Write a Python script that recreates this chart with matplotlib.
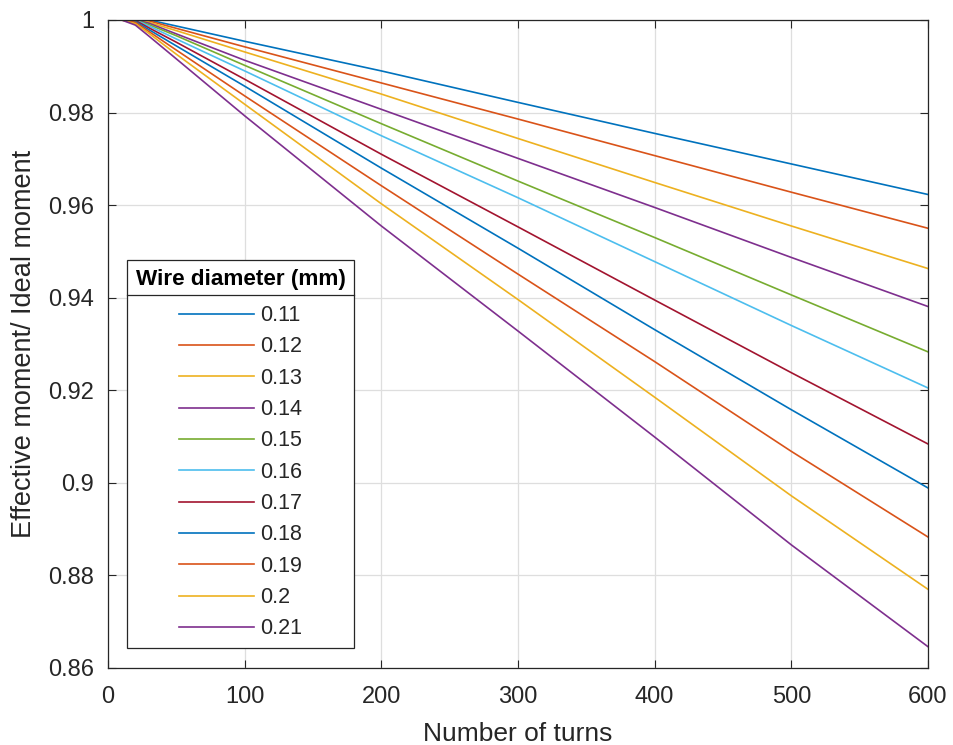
import matplotlib
matplotlib.use("Agg")
import matplotlib.pyplot as plt
from matplotlib.lines import Line2D

turns = [10, 20, 30, 50, 100, 200, 300, 400, 500, 600]
diameters = ["0.11", "0.12", "0.13", "0.14", "0.15", "0.16", "0.17", "0.18", "0.19", "0.2", "0.21"]

d011 = [1.0, 1.0, 1.0, 0.9987, 0.9954, 0.9890, 0.9822, 0.9755, 0.9689, 0.9623]
d012 = [1.0, 1.0, 0.9998, 0.9982, 0.9942, 0.9864, 0.9786, 0.9707, 0.9628, 0.9550]
d013 = [1.0, 1.0, 0.9995, 0.9977, 0.9931, 0.9840, 0.9744, 0.9649, 0.9555, 0.9463]
d014 = [1.0, 1.0, 0.9993, 0.9970, 0.9913, 0.9807, 0.9701, 0.9595, 0.9487, 0.9381]
d015 = [1.0, 1.0, 0.9990, 0.9966, 0.9902, 0.9776, 0.9652, 0.9530, 0.9406, 0.9283]
d016 = [1.0, 1.0, 0.9987, 0.9959, 0.9890, 0.9750, 0.9616, 0.9478, 0.9340, 0.9205]
d017 = [1.0, 0.9999, 0.9983, 0.9952, 0.9872, 0.9710, 0.9553, 0.9395, 0.9238, 0.9084]
d018 = [1.0, 0.9997, 0.9979, 0.9944, 0.9857, 0.9680, 0.9507, 0.9331, 0.9158, 0.8989]
d019 = [1.0, 0.9995, 0.9975, 0.9935, 0.9836, 0.9642, 0.9451, 0.9262, 0.9068, 0.8883]
d020 = [1.0, 0.9992, 0.9971, 0.9926, 0.9818, 0.9603, 0.9396, 0.9185, 0.8972, 0.8770]
d021 = [1.0, 0.9989, 0.9965, 0.9916, 0.9793, 0.9555, 0.9328, 0.9099, 0.8866, 0.8646]

series = [d011, d012, d013, d014, d015, d016, d017, d018, d019, d020, d021]

x_ticks = [0, 100, 200, 300, 400, 500, 600]
y_ticks = [0.86, 0.88, 0.9, 0.92, 0.94, 0.96, 0.98, 1.0]
y_ticklabels = ["0.86", "0.88", "0.9", "0.92", "0.94", "0.96", "0.98", "1"]

colors = ["#0072BD", "#D95319", "#EDB120", "#7E2F8E", "#77AC30", "#4DBEEE", "#A2142F"]

plt.rcParams['font.family'] = ['Liberation Sans', 'DejaVu Sans']
txt = "#262626"

fig = plt.figure(figsize=(9.54, 7.45), dpi=100)
ax = fig.add_axes([108/954, 1 - 668/745, (928-108)/954, (668-20)/745])

for i, (lab, vals) in enumerate(zip(diameters, series)):
    ax.plot(turns, vals, color=colors[i % len(colors)], lw=1.2, label=lab)

ax.set_xlim(0, 600)
ax.set_ylim(0.86, 1.0)
ax.set_xticks(x_ticks)
ax.set_yticks(y_ticks)
ax.set_yticklabels(y_ticklabels)
ax.grid(True, color="#dedede", lw=0.9)
ax.set_axisbelow(True)
ax.tick_params(direction="in", length=6, width=0.8, top=True, right=True,
               labelsize=17, colors=txt)
ax.tick_params(axis="x", pad=13)
ax.tick_params(axis="y", pad=10)
for s in ax.spines.values():
    s.set_color(txt)
    s.set_linewidth(0.9)
ax.set_xlabel("Number of turns", fontsize=19, color=txt, labelpad=10)
ax.set_ylabel("Effective moment/ Ideal moment", fontsize=19.5, color=txt, labelpad=8)

leg = ax.legend(loc="lower left", bbox_to_anchor=(19/820, 20/648), fontsize=15.5,
                title="Wire diameter (mm)",
                title_fontproperties={"weight": "bold", "size": 16.2},
                handlelength=3.5, handletextpad=0.28, labelspacing=0.48,
                borderpad=0.4, borderaxespad=0, fancybox=False, framealpha=1,
                edgecolor=txt)
leg._legend_box.sep = 11
leg.get_frame().set_linewidth(0.9)
for t in leg.get_texts():
    t.set_color(txt)
leg.get_title().set_color("black")

fig.canvas.draw()
r = fig.canvas.get_renderer()
fb = leg.get_frame().get_window_extent(r)
tb = leg.get_title().get_window_extent(r)
ysep = tb.y0 - 5
fig.add_artist(Line2D([fb.x0 / 954, fb.x1 / 954], [ysep / 745, ysep / 745],
                      transform=fig.transFigure, color=txt, lw=0.9))

fig.savefig("out.png", dpi=100)
